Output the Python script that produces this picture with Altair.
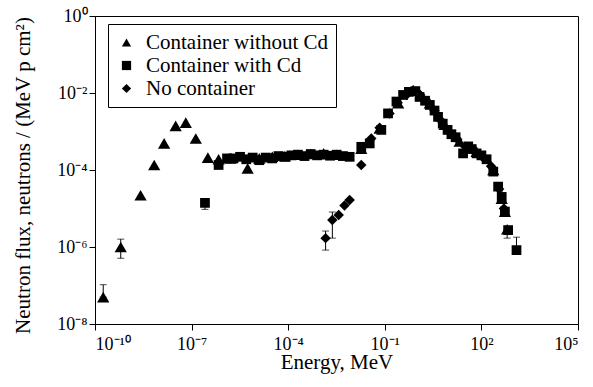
import altair as alt
import pandas as pd

FONT = "Liberation Serif"

# Measured spectra: energy (MeV) and flux (neutrons / (MeV p cm^2))
tri_energy = [1.8e-10, 6.3e-10, 2.6e-9, 6.9e-9, 1.4e-8, 3.2e-8, 6.6e-8, 1.35e-7,
              3.2e-7, 6.9e-7, 1.6e-6, 5.5e-6, 1.26e-5, 3.2e-5, 7.9e-5, 2.0e-4,
              5.0e-4, 1.26e-3, 3.2e-3, 1.86e-2, 6.9e-2, 0.26, 0.76, 2.5, 7.2,
              21.0, 71.0, 234.0, 427.0, 537.0, 630.0]
tri_flux = [5.0e-8, 1.0e-6, 2.2e-5, 1.35e-4, 4.9e-4, 1.4e-3, 1.7e-3, 6.6e-4,
            2.1e-4, 1.9e-4, 2.0e-4, 1.1e-4, 2.0e-4, 2.2e-4, 2.3e-4, 2.5e-4,
            2.6e-4, 2.7e-4, 2.5e-4, 3.6e-4, 1.2e-3, 5.4e-3, 1.2e-2, 5.4e-3, 1.5e-3,
            5.5e-4, 3.0e-4, 1.0e-4, 1.8e-5, 8.3e-6, 2.9e-6]

sq_energy = [2.6e-7, 6.9e-7, 1.26e-6, 2.0e-6, 3.2e-6, 5.0e-6, 7.9e-6, 1.26e-5,
             2.0e-5, 3.2e-5, 5.0e-5, 7.9e-5, 1.26e-4, 2.0e-4, 3.2e-4, 5.0e-4,
             7.9e-4, 1.26e-3, 2.0e-3, 3.2e-3, 5.0e-3, 8.1e-3, 1.86e-2, 3.4e-2,
             7.8e-2, 0.126, 0.23, 0.37, 0.56, 0.89, 1.2, 1.78, 2.5, 3.5, 4.5,
             6.3, 8.9, 11.7, 15.8, 27.0, 39.0, 50.0, 71.0, 100.0, 145.0, 234.0,
             331.0, 427.0, 537.0, 676.0, 1230.0]
sq_flux = [1.4e-5, 1.35e-4, 2.0e-4, 2.0e-4, 2.2e-4, 1.9e-4, 2.1e-4, 1.8e-4,
           2.1e-4, 2.0e-4, 2.3e-4, 2.2e-4, 2.4e-4, 2.5e-4, 2.3e-4, 2.6e-4,
           2.4e-4, 2.5e-4, 2.35e-4, 2.5e-4, 2.3e-4, 2.2e-4, 4.0e-4, 4.9e-4,
           1.1e-3, 2.95e-3, 6.0e-3, 8.9e-3, 1.07e-2, 1.12e-2, 7.9e-3, 6.3e-3,
           4.9e-3, 3.5e-3, 2.4e-3, 1.6e-3, 1.1e-3, 8.5e-4, 7.1e-4, 2.7e-4,
           4.1e-4, 3.5e-4, 2.7e-4, 2.4e-4, 1.9e-4, 9.1e-5, 3.7e-5, 2.0e-5,
           8.3e-6, 2.75e-6, 8.3e-7]

dia_energy = [1.45e-3, 2.35e-3, 3.7e-3, 5.6e-3, 8.1e-3, 1.86e-2, 3.8e-2, 6.9e-2,
              0.14, 0.25, 0.47, 0.76, 1.26, 2.0, 3.5, 5.6, 10.0, 17.8, 31.6,
              56.0, 112.0, 200.0, 355.0, 500.0]
dia_flux = [1.7e-6, 5.0e-6, 6.8e-6, 1.2e-5, 1.66e-5, 1.35e-4, 6.6e-4, 1.26e-3,
            2.95e-3, 5.6e-3, 8.9e-3, 1.12e-2, 8.9e-3, 6.0e-3, 3.5e-3, 1.9e-3,
            1.0e-3, 6.3e-4, 4.0e-4, 3.3e-4, 2.1e-4, 1.26e-4, 3.2e-5, 1.0e-5]

# Error bars (lower and upper flux bounds)
err_energy = [1.8e-10, 6.3e-10, 2.6e-7, 1.45e-3, 2.35e-3, 630.0, 1230.0]
err_low = [5.0e-8, 5.1e-7, 9.5e-6, 8.3e-7, 1.7e-6, 1.7e-6, 8.3e-7]
err_high = [1.05e-7, 1.6e-6, 1.8e-5, 2.6e-6, 8.1e-6, 2.9e-6, 1.8e-6]

series_names = ["Container without Cd", "Container with Cd", "No container"]
series_shapes = ["triangle-up", "square", "diamond"]
series_sizes = [150, 95, 110]

x_ticks = [1e-10, 1e-7, 1e-4, 1e-1, 1e2, 1e5]
x_tick_labels = ["10⁻¹⁰", "10⁻⁷", "10⁻⁴", "10⁻¹", "10²", "10⁵"]
y_ticks = [1e-8, 1e-6, 1e-4, 1e-2, 1]
y_tick_labels = ["10⁻⁸", "10⁻⁶", "10⁻⁴", "10⁻²", "10⁰"]


def label_expr(values, labels):
    expr = "''"
    for v, lab in zip(values, labels):
        expr = f"abs(log(datum.value) - log({v:g})) < 0.1 ? '{lab}' : ({expr})"
    return expr


series_data = [
    pd.DataFrame({"energy": tri_energy, "flux": tri_flux, "series": series_names[0]}),
    pd.DataFrame({"energy": sq_energy, "flux": sq_flux, "series": series_names[1]}),
    pd.DataFrame({"energy": dia_energy, "flux": dia_flux, "series": series_names[2]}),
]

errors = pd.DataFrame({"energy": err_energy, "lo": err_low, "hi": err_high})
caps = pd.concat([
    pd.DataFrame({"energy": err_energy, "cap": err_low}),
    pd.DataFrame({"energy": err_energy, "cap": err_high}),
], ignore_index=True)

x_scale = alt.Scale(type="log", domain=[1e-10, 1e5], nice=False)
y_scale = alt.Scale(type="log", domain=[1e-8, 1], nice=False)
shape_scale = alt.Scale(domain=series_names, range=series_shapes)

axis_style = dict(
    grid=False, tickSize=6, labelFont=FONT, titleFont=FONT,
    labelColor="black", titleColor="black", titleFontWeight="normal",
    domainColor="black", tickColor="black", domainWidth=1, tickWidth=1,
    labelFontSize=18, titleFontSize=21,
)

x_axis = alt.Axis(
    values=x_ticks, labelExpr=label_expr(x_ticks, x_tick_labels),
    title="Energy, MeV", labelPadding=5,
    titleY=44, titleBaseline="alphabetic", **axis_style,
)
y_axis = alt.Axis(
    values=y_ticks, labelExpr=label_expr(y_ticks, y_tick_labels),
    title="Neutron flux, neutrons / (MeV p cm²)", labelPadding=2,
    titleAngle=270, titleX=-66, titleY=159, titleBaseline="alphabetic",
    titleAlign="center", **axis_style,
)

legend = alt.Legend(
    title=None, orient="none", legendX=13, legendY=8,
    strokeColor="black", fillColor="white", padding=8,
    labelFontSize=21, labelFont=FONT, labelColor="black",
    labelLimit=400, symbolSize=85, symbolFillColor="black",
    symbolStrokeColor="black", symbolStrokeWidth=0,
    labelOffset=9, rowPadding=1,
)

bars = alt.Chart(errors).mark_rule(color="black", strokeWidth=1).encode(
    x=alt.X("energy:Q", scale=x_scale, axis=x_axis),
    y=alt.Y("lo:Q", scale=y_scale, axis=y_axis),
    y2="hi:Q",
)

cap_marks = alt.Chart(caps).mark_tick(
    color="black", orient="horizontal", size=7, thickness=1
).encode(
    x=alt.X("energy:Q", scale=x_scale),
    y=alt.Y("cap:Q", scale=y_scale),
)

point_layers = [
    alt.Chart(df).mark_point(filled=True, color="black", opacity=1, size=sz).encode(
        x=alt.X("energy:Q", scale=x_scale),
        y=alt.Y("flux:Q", scale=y_scale),
        shape=alt.Shape("series:N", scale=shape_scale, legend=legend),
    )
    for df, sz in zip(series_data, series_sizes)
]

chart = (
    alt.layer(bars, cap_marks, *point_layers)
    .properties(
        width=483, height=308,
        background="white",
        autosize=alt.AutoSizeParams(type="none"),
        padding={"left": 95, "top": 16, "right": 15, "bottom": 63},
    )
    .configure_view(stroke="black", strokeWidth=1)
)

chart.save("out.html", embed_options={"renderer": "svg", "actions": False})
